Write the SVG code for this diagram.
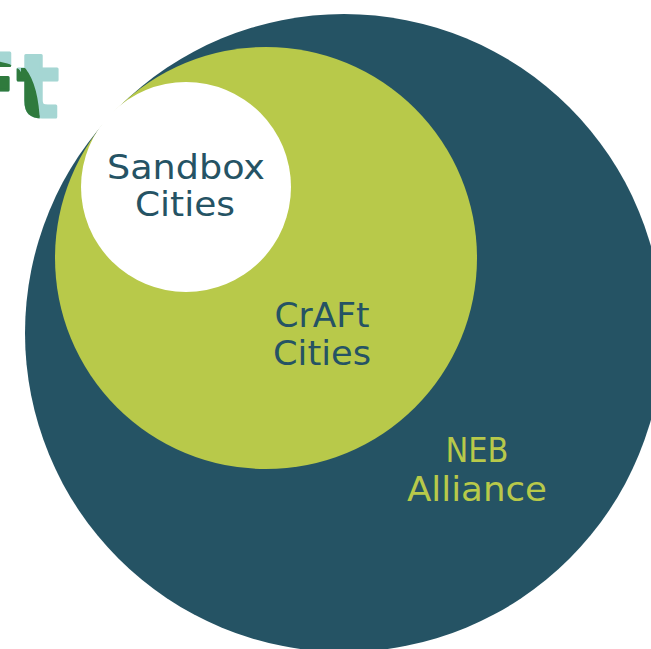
<svg xmlns="http://www.w3.org/2000/svg" width="651" height="649" viewBox="0 0 651 649">
  <defs>
    <style>
      .lbl { font-family: "DejaVu Sans", "Open Sans", sans-serif; font-size: 33px; text-anchor: middle; }
      .dark { fill: #255364; }
      .lime { fill: #b8c94a; }
      .logo { font-family: "DejaVu Sans", sans-serif; font-weight: bold; font-size: 88px; stroke-width: 3; stroke-linejoin: round; }
    </style>
    <clipPath id="greenClip">
      <path d="M -60,60 Q 10,56 21,72 L 21,125 L -60,125 Z"/>
      <path d="M 21,68 L 25,68 Q 39,85 40,125 L 21,125 Z"/>
    </clipPath>
  </defs>
  <rect width="651" height="649" fill="#ffffff"/>

  <g id="logo">
    <text class="logo" x="-43" y="117" fill="#a5d6d3" stroke="#a5d6d3">Ft</text>
    <text class="logo" x="-43" y="117" fill="#2f7a3d" stroke="#2f7a3d" clip-path="url(#greenClip)">Ft</text>
  </g>

  <g id="neb-alliance">
    <circle cx="344" cy="333" r="319" fill="#255364"/>
    <text class="lbl lime" x="477" y="462" textLength="63" lengthAdjust="spacingAndGlyphs">NEB</text>
    <text class="lbl lime" x="477" y="501" textLength="140" lengthAdjust="spacingAndGlyphs">Alliance</text>
  </g>

  <g id="craft-cities">
    <circle cx="266" cy="258" r="211" fill="#b8c94a"/>
    <text class="lbl dark" x="322" y="327" textLength="95" lengthAdjust="spacingAndGlyphs">CrAFt</text>
    <text class="lbl dark" x="322" y="365" textLength="98" lengthAdjust="spacingAndGlyphs">Cities</text>
  </g>

  <g id="sandbox-cities">
    <circle cx="186" cy="187" r="105" fill="#ffffff"/>
    <text class="lbl dark" x="186" y="179" textLength="158" lengthAdjust="spacingAndGlyphs">Sandbox</text>
    <text class="lbl dark" x="185" y="216" textLength="100" lengthAdjust="spacingAndGlyphs">Cities</text>
  </g>

  <g id="connectors"/>
</svg>
